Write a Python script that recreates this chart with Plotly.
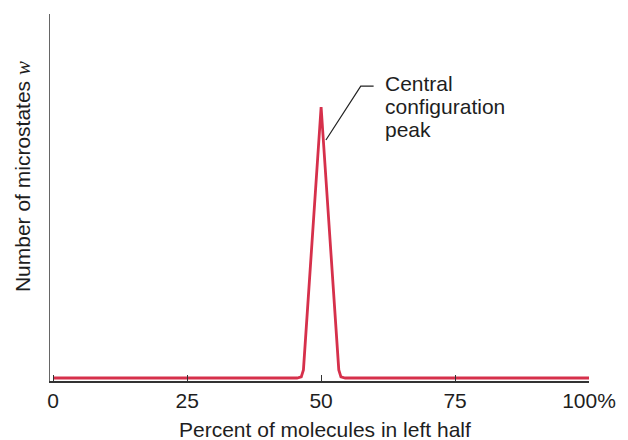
import plotly.graph_objects as go

# data
pct_left = [0, 45.5, 46.3, 46.7, 50, 53.3, 53.7, 54.5, 100]
microstates = [0, 0, 0.004, 0.03, 1.0, 0.03, 0.004, 0, 0]
tick_vals = [0, 25, 50, 75, 100]
tick_text = ["0", "25", "50", "75", "100%"]
callout_lines = ["Central", "configuration", "peak"]

FONT = "Liberation Sans, Arial, Helvetica, sans-serif"
RED = "#d6304b"
TXT = "#1e1e1e"

fig = go.Figure()
fig.add_trace(go.Scatter(x=pct_left, y=microstates, mode="lines",
                         line=dict(color=RED, width=2.8), hoverinfo="skip"))

fig.update_layout(
    width=628, height=440,
    margin=dict(l=50, r=35, t=14, b=59),
    paper_bgcolor="white", plot_bgcolor="white",
    showlegend=False,
    font=dict(family=FONT, size=21, color=TXT),
    xaxis=dict(range=[-0.6, 100], tickvals=tick_vals, ticktext=tick_text,
               ticks="inside", ticklen=6, tickcolor="#333", tickwidth=1.3,
               showline=True, linecolor="#333", linewidth=1.5,
               showgrid=False, zeroline=False, fixedrange=True,
               tickfont=dict(size=21, color=TXT)),
    yaxis=dict(range=[-0.011, 1.343], showticklabels=False, ticks="",
               showline=True, linecolor="#666", linewidth=1.3,
               showgrid=False, zeroline=False, fixedrange=True),
)

# x-axis title
fig.add_annotation(xref="paper", yref="paper", x=0.51, y=-0.1335,
                   xanchor="center", yanchor="middle", showarrow=False,
                   text="Percent of molecules in left half",
                   font=dict(size=21, color=TXT))

# y-axis title with italic serif w
fig.add_annotation(xref="paper", yref="paper", x=-0.0498, y=0.556,
                   xanchor="center", yanchor="middle", textangle=-90, showarrow=False,
                   text="Number of microstates <span style='font-family:\"Liberation Serif\",Times,serif;font-style:italic'>w</span>",
                   font=dict(size=21, color=TXT))

# callout
fig.add_shape(type="path", xref="x", yref="y",
              path="M 50.9 0.878 L 57.4 1.077 L 59.8 1.077",
              line=dict(color="#222", width=1.2))
for i, line in enumerate(callout_lines):
    fig.add_annotation(x=61.56, y=1.0867 - i * 0.0849, xref="x", yref="y",
                       xanchor="left", yanchor="middle", align="left", showarrow=False,
                       text=line, font=dict(size=21, color=TXT))

fig.write_html("out.html", config={"displayModeBar": False},
               post_script="document.body.style.margin='0';")
